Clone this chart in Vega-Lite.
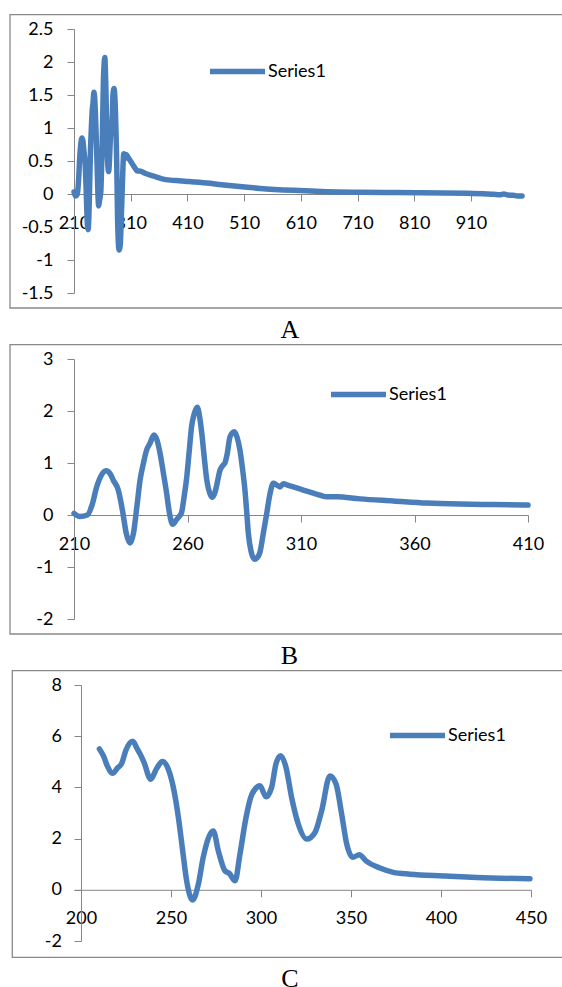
{
 "$schema": "https://vega.github.io/schema/vega-lite/v6.json",
 "autosize": {"type": "none"},
 "padding": {"left": 74, "top": 29, "right": 488, "bottom": 958},
 "background": "white",
 "datasets": {
  "a": [
   {"wl":210,"abs":0.03,"series":"Series1"},{"wl":212.6,"abs":-0.03,"series":"Series1"},{"wl":215.9,"abs":0.0,"series":"Series1"},{"wl":218,"abs":0.2,"series":"Series1"},{"wl":220,"abs":0.54,"series":"Series1"},{"wl":222,"abs":0.76,"series":"Series1"},{"wl":224.1,"abs":0.85,"series":"Series1"},{"wl":225.8,"abs":0.8,"series":"Series1"},{"wl":227.3,"abs":0.67,"series":"Series1"},{"wl":229.5,"abs":0.48,"series":"Series1"},{"wl":231.5,"abs":0.05,"series":"Series1"},{"wl":233,"abs":-0.35,"series":"Series1"},{"wl":234.7,"abs":-0.54,"series":"Series1"},{"wl":236.2,"abs":-0.35,"series":"Series1"},{"wl":237.8,"abs":0.2,"series":"Series1"},{"wl":239.1,"abs":0.67,"series":"Series1"},{"wl":240.6,"abs":1.0,"series":"Series1"},{"wl":242,"abs":1.25,"series":"Series1"},{"wl":243.5,"abs":1.38,"series":"Series1"},{"wl":245.2,"abs":1.54,"series":"Series1"},{"wl":246.5,"abs":1.45,"series":"Series1"},{"wl":247.9,"abs":1.19,"series":"Series1"},{"wl":249.4,"abs":0.8,"series":"Series1"},{"wl":250.8,"abs":0.42,"series":"Series1"},{"wl":252,"abs":0.05,"series":"Series1"},{"wl":253.5,"abs":-0.18,"series":"Series1"},{"wl":255,"abs":-0.1,"series":"Series1"},{"wl":256.3,"abs":-0.03,"series":"Series1"},{"wl":257.4,"abs":0.05,"series":"Series1"},{"wl":258.5,"abs":0.35,"series":"Series1"},{"wl":259.6,"abs":0.7,"series":"Series1"},{"wl":260.7,"abs":1.2,"series":"Series1"},{"wl":261.8,"abs":1.7,"series":"Series1"},{"wl":263,"abs":1.95,"series":"Series1"},{"wl":264.3,"abs":2.07,"series":"Series1"},{"wl":265.3,"abs":1.9,"series":"Series1"},{"wl":266.3,"abs":1.57,"series":"Series1"},{"wl":267.4,"abs":1.1,"series":"Series1"},{"wl":268.5,"abs":0.67,"series":"Series1"},{"wl":269.8,"abs":0.42,"series":"Series1"},{"wl":271,"abs":0.34,"series":"Series1"},{"wl":272.2,"abs":0.45,"series":"Series1"},{"wl":273,"abs":0.6,"series":"Series1"},{"wl":274.3,"abs":0.86,"series":"Series1"},{"wl":275.5,"abs":0.95,"series":"Series1"},{"wl":276.5,"abs":1.0,"series":"Series1"},{"wl":277.6,"abs":1.2,"series":"Series1"},{"wl":278.7,"abs":1.5,"series":"Series1"},{"wl":280.6,"abs":1.6,"series":"Series1"},{"wl":281.8,"abs":1.5,"series":"Series1"},{"wl":283.1,"abs":1.25,"series":"Series1"},{"wl":284.2,"abs":0.9,"series":"Series1"},{"wl":285.3,"abs":0.48,"series":"Series1"},{"wl":286.1,"abs":0.05,"series":"Series1"},{"wl":286.8,"abs":-0.35,"series":"Series1"},{"wl":288,"abs":-0.7,"series":"Series1"},{"wl":289.5,"abs":-0.85,"series":"Series1"},{"wl":290.7,"abs":-0.82,"series":"Series1"},{"wl":291.9,"abs":-0.72,"series":"Series1"},{"wl":293.4,"abs":-0.35,"series":"Series1"},{"wl":294.9,"abs":0.03,"series":"Series1"},{"wl":296.3,"abs":0.4,"series":"Series1"},{"wl":297.8,"abs":0.61,"series":"Series1"},{"wl":299.2,"abs":0.58,"series":"Series1"},{"wl":300.7,"abs":0.54,"series":"Series1"},{"wl":302.2,"abs":0.6,"series":"Series1"},{"wl":304.4,"abs":0.57,"series":"Series1"},{"wl":306.6,"abs":0.54,"series":"Series1"},{"wl":311,"abs":0.48,"series":"Series1"},{"wl":315.4,"abs":0.42,"series":"Series1"},{"wl":318.5,"abs":0.38,"series":"Series1"},{"wl":321.3,"abs":0.35,"series":"Series1"},{"wl":325.7,"abs":0.35,"series":"Series1"},{"wl":336,"abs":0.31,"series":"Series1"},{"wl":350.7,"abs":0.27,"series":"Series1"},{"wl":365.4,"abs":0.23,"series":"Series1"},{"wl":380,"abs":0.21,"series":"Series1"},{"wl":394.7,"abs":0.2,"series":"Series1"},{"wl":410,"abs":0.19,"series":"Series1"},{"wl":444,"abs":0.165,"series":"Series1"},{"wl":470,"abs":0.14,"series":"Series1"},{"wl":511,"abs":0.105,"series":"Series1"},{"wl":538,"abs":0.085,"series":"Series1"},{"wl":597,"abs":0.055,"series":"Series1"},{"wl":656,"abs":0.035,"series":"Series1"},{"wl":714,"abs":0.027,"series":"Series1"},{"wl":773,"abs":0.022,"series":"Series1"},{"wl":814,"abs":0.02,"series":"Series1"},{"wl":861,"abs":0.017,"series":"Series1"},{"wl":902,"abs":0.01,"series":"Series1"},{"wl":938,"abs":0.0,"series":"Series1"},{"wl":950,"abs":-0.005,"series":"Series1"},{"wl":961,"abs":-0.012,"series":"Series1"},{"wl":968,"abs":0.0,"series":"Series1"},{"wl":975,"abs":-0.015,"series":"Series1"},{"wl":985,"abs":-0.02,"series":"Series1"},{"wl":992,"abs":-0.03,"series":"Series1"},{"wl":1000,"abs":-0.03,"series":"Series1"}
  ],
  "b": [
   {"wl":210,"abs":0.03,"series":"Series1"},{"wl":212.6,"abs":-0.03,"series":"Series1"},{"wl":215.9,"abs":0.0,"series":"Series1"},{"wl":218,"abs":0.2,"series":"Series1"},{"wl":220,"abs":0.54,"series":"Series1"},{"wl":222,"abs":0.76,"series":"Series1"},{"wl":224.1,"abs":0.85,"series":"Series1"},{"wl":225.8,"abs":0.8,"series":"Series1"},{"wl":227.3,"abs":0.67,"series":"Series1"},{"wl":229.5,"abs":0.48,"series":"Series1"},{"wl":231.5,"abs":0.05,"series":"Series1"},{"wl":233,"abs":-0.35,"series":"Series1"},{"wl":234.7,"abs":-0.54,"series":"Series1"},{"wl":236.2,"abs":-0.35,"series":"Series1"},{"wl":237.8,"abs":0.2,"series":"Series1"},{"wl":239.1,"abs":0.67,"series":"Series1"},{"wl":240.6,"abs":1.0,"series":"Series1"},{"wl":242,"abs":1.25,"series":"Series1"},{"wl":243.5,"abs":1.38,"series":"Series1"},{"wl":245.2,"abs":1.54,"series":"Series1"},{"wl":246.5,"abs":1.45,"series":"Series1"},{"wl":247.9,"abs":1.19,"series":"Series1"},{"wl":249.4,"abs":0.8,"series":"Series1"},{"wl":250.8,"abs":0.42,"series":"Series1"},{"wl":252,"abs":0.05,"series":"Series1"},{"wl":253.5,"abs":-0.18,"series":"Series1"},{"wl":255,"abs":-0.1,"series":"Series1"},{"wl":256.3,"abs":-0.03,"series":"Series1"},{"wl":257.4,"abs":0.05,"series":"Series1"},{"wl":258.5,"abs":0.35,"series":"Series1"},{"wl":259.6,"abs":0.7,"series":"Series1"},{"wl":260.7,"abs":1.2,"series":"Series1"},{"wl":261.8,"abs":1.7,"series":"Series1"},{"wl":263,"abs":1.95,"series":"Series1"},{"wl":264.3,"abs":2.07,"series":"Series1"},{"wl":265.3,"abs":1.9,"series":"Series1"},{"wl":266.3,"abs":1.57,"series":"Series1"},{"wl":267.4,"abs":1.1,"series":"Series1"},{"wl":268.5,"abs":0.67,"series":"Series1"},{"wl":269.8,"abs":0.42,"series":"Series1"},{"wl":271,"abs":0.34,"series":"Series1"},{"wl":272.2,"abs":0.45,"series":"Series1"},{"wl":273,"abs":0.6,"series":"Series1"},{"wl":274.3,"abs":0.86,"series":"Series1"},{"wl":275.5,"abs":0.95,"series":"Series1"},{"wl":276.5,"abs":1.0,"series":"Series1"},{"wl":277.6,"abs":1.2,"series":"Series1"},{"wl":278.7,"abs":1.5,"series":"Series1"},{"wl":280.6,"abs":1.6,"series":"Series1"},{"wl":281.8,"abs":1.5,"series":"Series1"},{"wl":283.1,"abs":1.25,"series":"Series1"},{"wl":284.2,"abs":0.9,"series":"Series1"},{"wl":285.3,"abs":0.48,"series":"Series1"},{"wl":286.1,"abs":0.05,"series":"Series1"},{"wl":286.8,"abs":-0.35,"series":"Series1"},{"wl":288,"abs":-0.7,"series":"Series1"},{"wl":289.5,"abs":-0.85,"series":"Series1"},{"wl":290.7,"abs":-0.82,"series":"Series1"},{"wl":291.9,"abs":-0.72,"series":"Series1"},{"wl":293.4,"abs":-0.35,"series":"Series1"},{"wl":294.9,"abs":0.03,"series":"Series1"},{"wl":296.3,"abs":0.4,"series":"Series1"},{"wl":297.8,"abs":0.61,"series":"Series1"},{"wl":299.2,"abs":0.58,"series":"Series1"},{"wl":300.7,"abs":0.54,"series":"Series1"},{"wl":302.2,"abs":0.6,"series":"Series1"},{"wl":304.4,"abs":0.57,"series":"Series1"},{"wl":306.6,"abs":0.54,"series":"Series1"},{"wl":311,"abs":0.48,"series":"Series1"},{"wl":315.4,"abs":0.42,"series":"Series1"},{"wl":318.5,"abs":0.38,"series":"Series1"},{"wl":321.3,"abs":0.35,"series":"Series1"},{"wl":325.7,"abs":0.35,"series":"Series1"},{"wl":336,"abs":0.31,"series":"Series1"},{"wl":350.7,"abs":0.27,"series":"Series1"},{"wl":365.4,"abs":0.23,"series":"Series1"},{"wl":380,"abs":0.21,"series":"Series1"},{"wl":394.7,"abs":0.2,"series":"Series1"},{"wl":410,"abs":0.19,"series":"Series1"}
  ],
  "c": [
   {"wl":210.2,"abs":5.5,"series":"Series1"},{"wl":212.4,"abs":5.24,"series":"Series1"},{"wl":214.6,"abs":4.84,"series":"Series1"},{"wl":217.6,"abs":4.55,"series":"Series1"},{"wl":220.2,"abs":4.75,"series":"Series1"},{"wl":222.6,"abs":4.94,"series":"Series1"},{"wl":225,"abs":5.46,"series":"Series1"},{"wl":228.7,"abs":5.8,"series":"Series1"},{"wl":231.3,"abs":5.5,"series":"Series1"},{"wl":233.1,"abs":5.27,"series":"Series1"},{"wl":235,"abs":4.98,"series":"Series1"},{"wl":238.7,"abs":4.32,"series":"Series1"},{"wl":242.1,"abs":4.75,"series":"Series1"},{"wl":245.2,"abs":5.01,"series":"Series1"},{"wl":248.5,"abs":4.71,"series":"Series1"},{"wl":251.3,"abs":4.0,"series":"Series1"},{"wl":254.1,"abs":2.83,"series":"Series1"},{"wl":256.5,"abs":1.52,"series":"Series1"},{"wl":258.7,"abs":0.35,"series":"Series1"},{"wl":262,"abs":-0.4,"series":"Series1"},{"wl":265.2,"abs":0.22,"series":"Series1"},{"wl":267.9,"abs":1.27,"series":"Series1"},{"wl":273.5,"abs":2.3,"series":"Series1"},{"wl":276.3,"abs":1.52,"series":"Series1"},{"wl":280,"abs":0.74,"series":"Series1"},{"wl":282.4,"abs":0.64,"series":"Series1"},{"wl":285.6,"abs":0.35,"series":"Series1"},{"wl":288.3,"abs":1.39,"series":"Series1"},{"wl":291.7,"abs":2.83,"series":"Series1"},{"wl":294.3,"abs":3.61,"series":"Series1"},{"wl":297.6,"abs":4.0,"series":"Series1"},{"wl":299.4,"abs":4.06,"series":"Series1"},{"wl":302.8,"abs":3.63,"series":"Series1"},{"wl":305.9,"abs":4.0,"series":"Series1"},{"wl":308.3,"abs":4.91,"series":"Series1"},{"wl":310.9,"abs":5.24,"series":"Series1"},{"wl":313.9,"abs":4.78,"series":"Series1"},{"wl":317,"abs":3.61,"series":"Series1"},{"wl":320.7,"abs":2.57,"series":"Series1"},{"wl":325.4,"abs":1.98,"series":"Series1"},{"wl":330,"abs":2.24,"series":"Series1"},{"wl":333.7,"abs":3.09,"series":"Series1"},{"wl":338.3,"abs":4.45,"series":"Series1"},{"wl":341.7,"abs":4.13,"series":"Series1"},{"wl":344.8,"abs":2.96,"series":"Series1"},{"wl":347.6,"abs":1.79,"series":"Series1"},{"wl":351,"abs":1.27,"series":"Series1"},{"wl":354.6,"abs":1.37,"series":"Series1"},{"wl":358.7,"abs":1.11,"series":"Series1"},{"wl":366.1,"abs":0.85,"series":"Series1"},{"wl":373.5,"abs":0.68,"series":"Series1"},{"wl":382.8,"abs":0.61,"series":"Series1"},{"wl":401.3,"abs":0.54,"series":"Series1"},{"wl":419.8,"abs":0.48,"series":"Series1"},{"wl":449.4,"abs":0.43,"series":"Series1"}
  ]
 },
 "bounds": "flush",
 "spacing": 66,
 "resolve": {"scale": {"x": "independent", "y": "independent", "color": "independent"}, "legend": {"color": "independent"}},
 "vconcat": [
  {
   "width": 448, "height": 264,
   "title": {"text": "A", "dx": -8, "offset": 8},
   "layer": [
    {"data": {"values": [{}]},
     "mark": {"type": "rect", "filled": false, "stroke": "#898989", "strokeWidth": 1.3, "clip": false},
     "encoding": {"x": {"datum": 97.14, "type": "quantitative"}, "x2": {"datum": 1093.5}, "y": {"datum": 2.717, "type": "quantitative"}, "y2": {"datum": -1.727}}},
    {"data": {"name": "a"},
     "mark": {"type": "line", "interpolate": "monotone", "strokeWidth": 5.5, "strokeCap": "round", "strokeJoin": "round"},
     "encoding": {
      "x": {"field": "wl", "type": "quantitative", "scale": {"domain": [210, 1000], "nice": false, "zero": false},
            "axis": {"title": null, "values": [210, 310, 410, 510, 610, 710, 810, 910], "tickCount": 30, "offset": -99, "labelExpr": "'' + datum.value", "labelPadding": 13, "labelOverlap": false}},
      "y": {"field": "abs", "type": "quantitative", "scale": {"domain": [-1.5, 2.5], "nice": false, "zero": false},
            "axis": {"title": null, "values": [-1.5, -1, -0.5, 0, 0.5, 1, 1.5, 2, 2.5], "tickCount": 30, "labelExpr": "'' + datum.value", "labelPadding": 14, "labelOverlap": false}},
      "color": {"field": "series", "type": "nominal", "scale": {"range": ["#4a7ebb"]},
                "legend": {"title": null, "orient": "none", "legendX": 133, "legendY": 12}}
     }}
   ]
  },
  {
   "width": 454, "height": 260,
   "title": {"text": "B", "dx": -11.7, "offset": 8},
   "layer": [
    {"data": {"values": [{}]},
     "mark": {"type": "rect", "filled": false, "stroke": "#898989", "strokeWidth": 1.3, "clip": false},
     "encoding": {"x": {"datum": 181.81, "type": "quantitative"}, "x2": {"datum": 430.7}, "y": {"datum": 3.275, "type": "quantitative"}, "y2": {"datum": -2.288}}},
    {"data": {"name": "b"},
     "mark": {"type": "line", "interpolate": "monotone", "strokeWidth": 5.5, "strokeCap": "round", "strokeJoin": "round"},
     "encoding": {
      "x": {"field": "wl", "type": "quantitative", "scale": {"domain": [210, 410], "nice": false, "zero": false},
            "axis": {"title": null, "values": [210, 260, 310, 360, 410], "tickCount": 30, "offset": -104, "labelExpr": "'' + datum.value", "labelPadding": 13, "labelOverlap": false}},
      "y": {"field": "abs", "type": "quantitative", "scale": {"domain": [-2, 3], "nice": false, "zero": false},
            "axis": {"title": null, "values": [-2, -1, 0, 1, 2, 3], "tickCount": 30, "labelExpr": "'' + datum.value", "labelPadding": 14, "labelOverlap": false}},
      "color": {"field": "series", "type": "nominal", "scale": {"range": ["#4a7ebb"]},
                "legend": {"title": null, "orient": "none", "legendX": 254, "legendY": 5}}
     }}
   ]
  },
  {
   "width": 457, "height": 256,
   "title": {"text": "C", "dx": -12.5, "offset": 8},
   "layer": [
    {"data": {"values": [{}]},
     "mark": {"type": "rect", "filled": false, "stroke": "#898989", "strokeWidth": 1.3, "clip": false},
     "encoding": {"x": {"datum": 161.83, "type": "quantitative"}, "x2": {"datum": 474.4}, "y": {"datum": 8.559, "type": "quantitative"}, "y2": {"datum": -2.637}}},
    {"data": {"name": "c"},
     "mark": {"type": "line", "interpolate": "monotone", "strokeWidth": 5.5, "strokeCap": "round", "strokeJoin": "round"},
     "encoding": {
      "x": {"field": "wl", "type": "quantitative", "scale": {"domain": [196.111, 450], "nice": false, "zero": false},
            "axis": {"title": null, "values": [200, 250, 300, 350, 400, 450], "tickCount": 30, "offset": -51.2, "labelExpr": "'' + datum.value", "labelPadding": 13, "labelOverlap": false}},
      "y": {"field": "abs", "type": "quantitative", "scale": {"domain": [-2, 8], "nice": false, "zero": false},
            "axis": {"title": null, "values": [-2, 0, 2, 4, 6, 8], "tickCount": 30, "offset": -7, "labelExpr": "'' + datum.value", "labelPadding": 12.5, "labelOverlap": false}},
      "color": {"field": "series", "type": "nominal", "scale": {"range": ["#4a7ebb"]},
                "legend": {"title": null, "orient": "none", "legendX": 313, "legendY": 20}}
     }}
   ]
  }
 ],
 "config": {
  "view": {"stroke": null},
  "axis": {"grid": false, "domainColor": "#868686", "domainWidth": 1, "tickColor": "#868686", "tickWidth": 1, "tickSize": 7,
           "labelFont": "Lato", "labelFontSize": 18, "labelColor": "#000000", "labelFlush": false, "labelOverlap": false, "labelBound": false},
  "legend": {"symbolType": "stroke", "symbolSize": 3025, "symbolStrokeWidth": 5.5, "labelFont": "Lato", "labelFontSize": 18, "labelColor": "#000000", "labelOffset": 0, "padding": 0},
  "title": {"orient": "bottom", "anchor": "middle", "frame": "group", "font": "Liberation Serif", "fontSize": 26, "fontWeight": "normal", "color": "#000000"}
 }
}
